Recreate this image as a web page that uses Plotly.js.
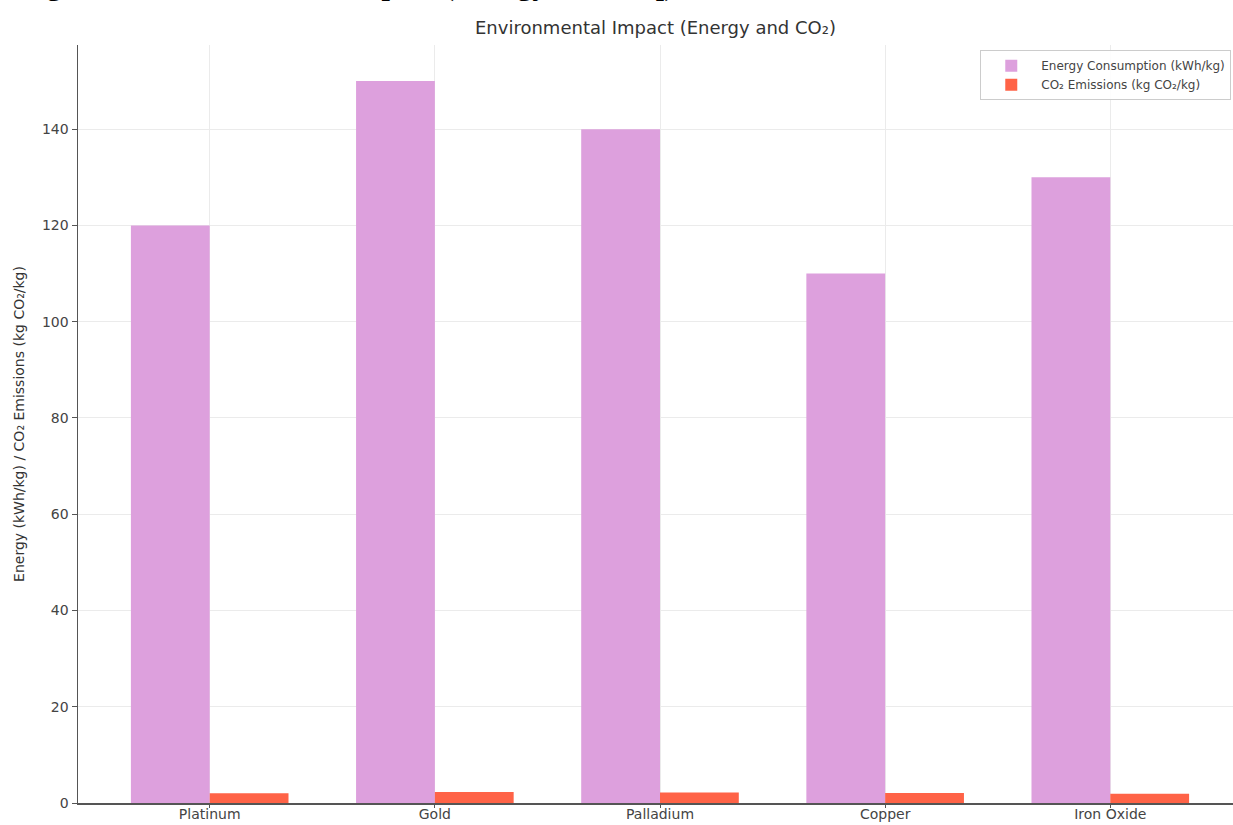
<!DOCTYPE html>
<html>
<head>
<meta charset="utf-8">
<script src="https://cdn.plot.ly/plotly-3.0.1.min.js"></script>
<style>
  html, body { margin: 0; padding: 0; background: #ffffff; }
  #chart { width: 1233px; height: 825px; }
</style>
</head>
<body>
<div id="chart"></div>
<script>
// Materials compared
const materials = ["Platinum", "Gold", "Palladium", "Copper", "Iron Oxide"];
// Energy consumption per kg (kWh/kg)
const energyKWh = [120, 150, 140, 110, 130];
// CO2 emissions per kg (kg CO2/kg)
const co2Kg = [2.0, 2.3, 2.2, 2.1, 1.9];
// Y axis ticks
const yTicks = [0, 20, 40, 60, 80, 100, 120, 140];

const xIdx = materials.map((_, i) => i);
const font = "DejaVu Sans, Verdana, sans-serif";

const traces = [
  {
    type: "bar",
    name: "Energy Consumption (kWh/kg)",
    x: xIdx,
    y: energyKWh,
    marker: { color: "#DDA0DD" },
    hoverinfo: "skip"
  },
  {
    type: "bar",
    name: "CO₂ Emissions (kg CO₂/kg)",
    x: xIdx,
    y: co2Kg,
    marker: { color: "#FF6347" },
    hoverinfo: "skip"
  }
];

const layout = {
  width: 1233,
  height: 825,
  paper_bgcolor: "#ffffff",
  plot_bgcolor: "#ffffff",
  margin: { l: 78, r: 0, t: 45, b: 22, pad: 0 },
  barmode: "group",
  bargap: 0.3,
  bargroupgap: 0,
  showlegend: true,
  font: { family: font, color: "#333333" },
  title: {
    text: "Environmental Impact (Energy and CO₂)",
    font: { family: font, size: 18, color: "#333333" },
    xref: "paper",
    x: 0.5,
    xanchor: "center",
    yref: "container",
    y: 0.966,
    yanchor: "middle"
  },
  xaxis: {
    range: [-0.585, 4.545],
    tickmode: "array",
    tickvals: xIdx,
    ticktext: materials,
    tickfont: { family: font, size: 14, color: "#444444" },
    ticks: "outside",
    ticklen: 3,
    tickcolor: "#555555",
    ticklabelstandoff: -5,
    showgrid: true,
    gridcolor: "#ebebeb",
    gridwidth: 1,
    showline: true,
    linecolor: "#555555",
    linewidth: 1.5,
    zeroline: false,
    automargin: false,
    fixedrange: true
  },
  yaxis: {
    range: [0, 157.5],
    tickmode: "array",
    tickvals: yTicks,
    tickfont: { family: font, size: 14, color: "#444444" },
    ticks: "outside",
    ticklen: 5,
    tickcolor: "#555555",
    showgrid: true,
    gridcolor: "#ebebeb",
    gridwidth: 1,
    showline: true,
    linecolor: "#555555",
    linewidth: 1.5,
    zeroline: false,
    automargin: false,
    fixedrange: true,
    title: {
      text: "Energy (kWh/kg) / CO₂ Emissions (kg CO₂/kg)",
      font: { family: font, size: 14, color: "#333333" },
      standoff: 14
    }
  },
  legend: {
    x: 0.9985,
    xanchor: "right",
    y: 0.993,
    yanchor: "top",
    bgcolor: "rgba(255,255,255,0.9)",
    bordercolor: "#cccccc",
    borderwidth: 1,
    font: { family: font, size: 12, color: "#444444" },
    itemwidth: 50,
    tracegroupgap: 4
  },
  annotations: [
    {
      // figure caption running above the chart
      text: "<b>Figure 4: Environmental Impact (Energy and CO₂)</b>",
      xref: "paper",
      yref: "paper",
      x: -0.052,
      xanchor: "left",
      y: 1.054,
      yanchor: "bottom",
      showarrow: false,
      font: { family: "Liberation Serif, Times New Roman, serif", size: 30, color: "#000000" }
    }
  ]
};

Plotly.newPlot("chart", traces, layout, { displayModeBar: false, staticPlot: true });
</script>
</body>
</html>
